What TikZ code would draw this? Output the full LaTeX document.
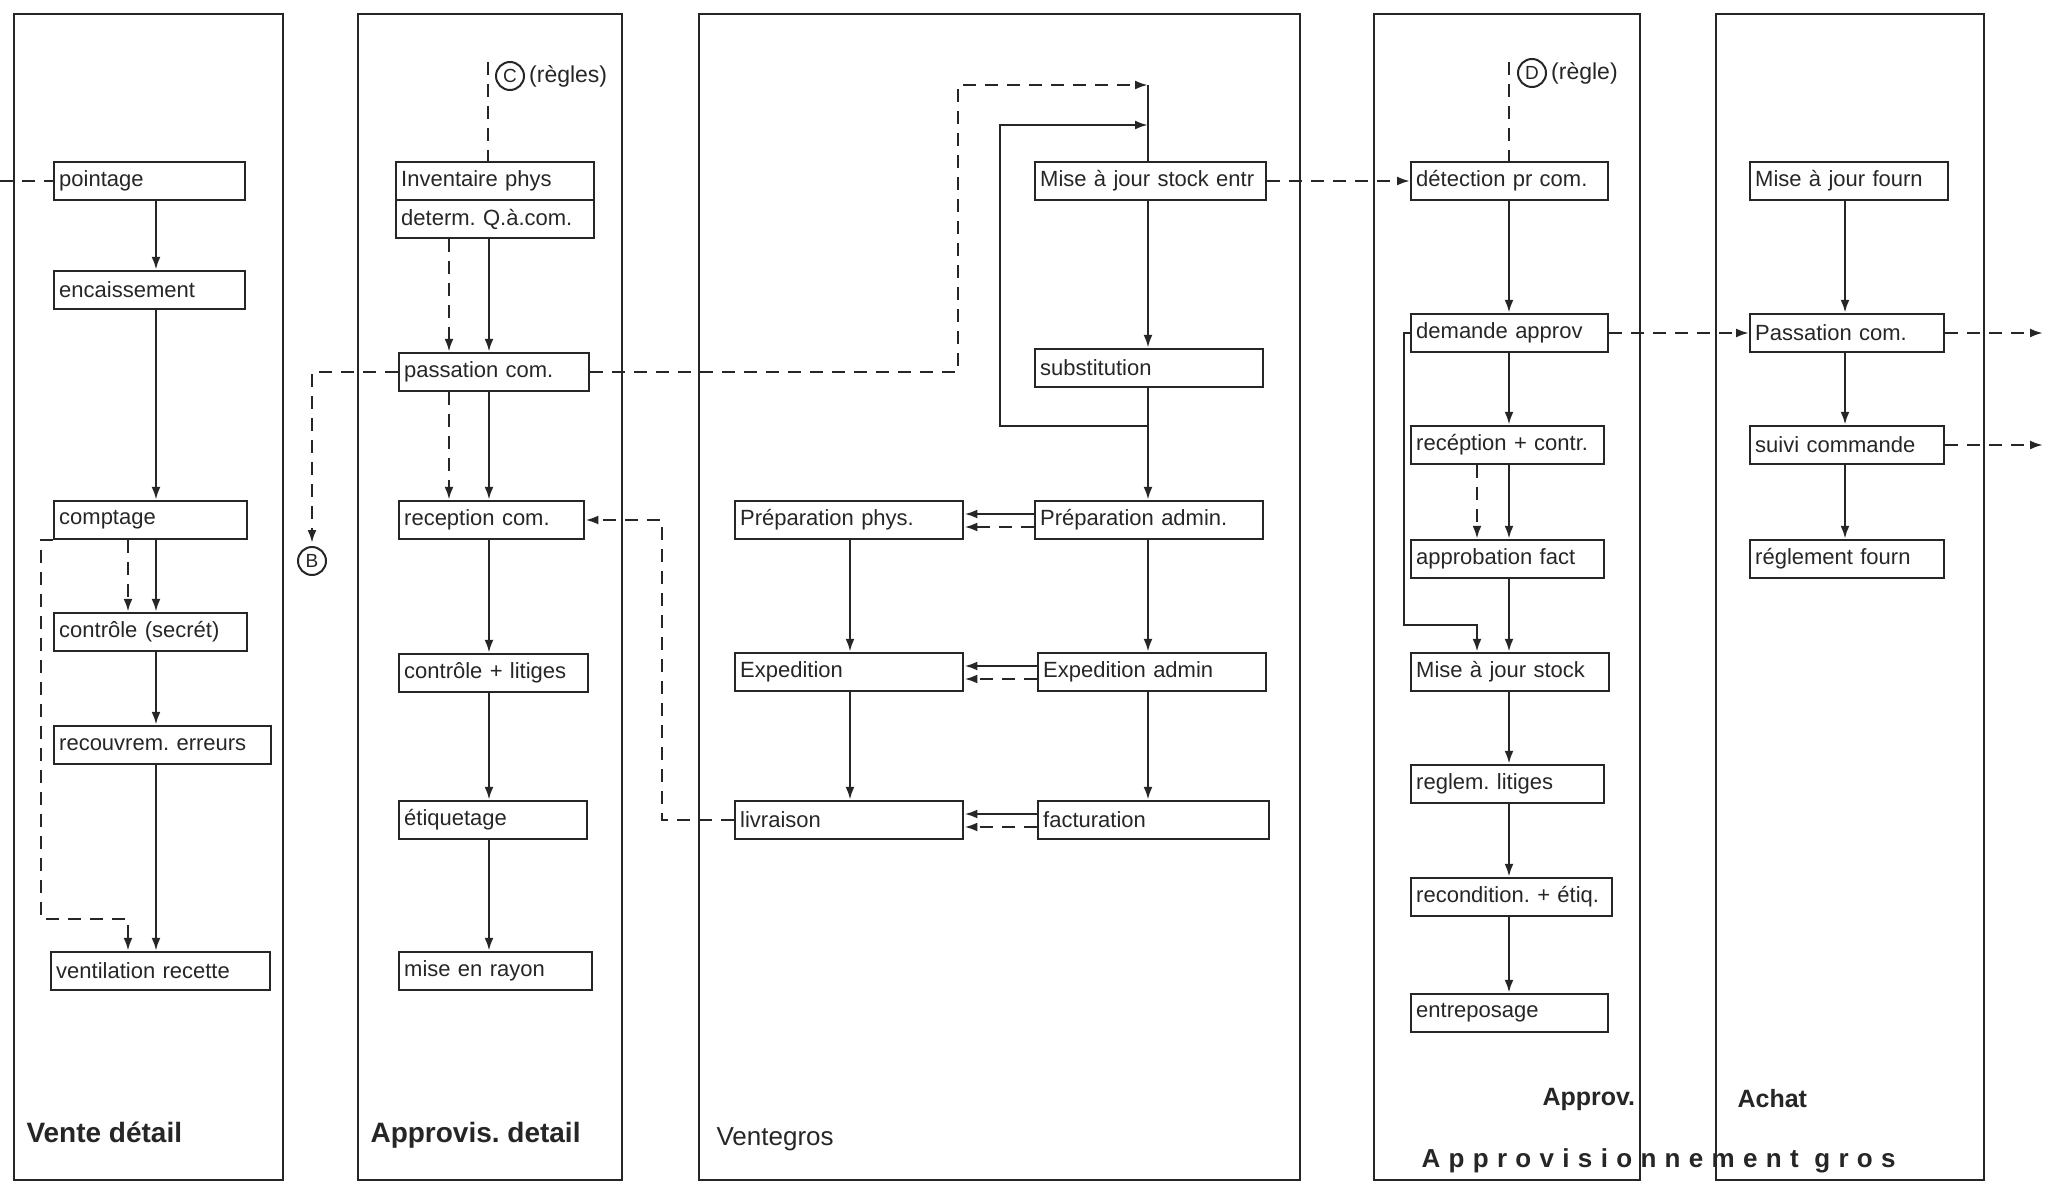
\documentclass[tikz,border=0pt]{standalone}
\usepackage{fontspec}
\setmainfont{Liberation Sans}
\usetikzlibrary{arrows.meta}
\frenchspacing
\tikzset{
  box/.style={draw, anchor=west, minimum height=38pt, inner xsep=5pt, inner ysep=0pt,
    align=left, font=\fontsize{22}{24}\selectfont},
  dsh/.style={dash pattern=on 13pt off 9pt},
  lane/.style={anchor=west, font=\bfseries\fontsize{28}{30}\selectfont},
  tag/.style={draw, circle, line width=2pt, inner sep=0pt, minimum size=28pt,
    font=\fontsize{19}{20}\selectfont},
  note/.style={anchor=west, inner xsep=3pt, font=\fontsize{23}{25}\selectfont},
}
\begin{document}
\begin{tikzpicture}[x=1pt, y=-1pt, line width=2.4pt, color=black!85,
    >={Latex[length=13pt,width=9pt]}]
\useasboundingbox (0,0) rectangle (2045,1185);

% lanes
\foreach \xa/\xb in {14/283, 358/622, 699/1300, 1374/1640, 1716/1984}
  \draw (\xa,14) rectangle (\xb,1180);

% columns of the arrows
\coordinate (c1) at (156,0);  \coordinate (c1d) at (128,0);
\coordinate (c2) at (489,0);  \coordinate (c2d) at (449,0);
\coordinate (c3) at (1148,0); \coordinate (c3p) at (850,0);
\coordinate (c4) at (1509,0); \coordinate (c4d) at (1477,0);
\coordinate (c5) at (1845,0);
\coordinate (lEdge) at (0,0); \coordinate (rEdge) at (2043,0);

% Vente detail
\node[box, text width=181pt] (pnt) at (53,181) {pointage};
\node[box, text width=181pt] (enc) at (53,290) {encaissement};
\node[box, text width=183pt] (cpt) at (53,520) {comptage};
\node[box, text width=183pt] (ctl) at (53,632) {contrôle (secrét)};
\node[box, text width=207pt] (rec) at (53,745) {recouvrem. erreurs};
\node[box, text width=209pt] (ven) at (50,971) {ventilation recette};

% Approvis. detail
\node[box, text width=188pt] (inv) at (395,181) {Inventaire phys};
\node[box, text width=188pt] (det) at (395,219) {determ. Q.à.com.};
\node[box, text width=180pt] (pas) at (398,372) {passation com.};
\node[box, text width=175pt] (rcp) at (398,520) {reception com.};
\node[box, text width=179pt] (ctg) at (398,673) {contrôle + litiges};
\node[box, text width=178pt] (eti) at (398,820) {étiquetage};
\node[box, text width=183pt] (ray) at (398,971) {mise en rayon};

% Vente gros
\node[box, text width=221pt] (msk) at (1034,181) {Mise à jour stock entr};
\node[box, text width=218pt] (sub) at (1034,368) {substitution};
\node[box, text width=218pt] (pad) at (1034,520) {Préparation admin.};
\node[box, text width=218pt] (pph) at (734,520) {Préparation phys.};
\node[box, text width=218pt] (exp) at (734,672) {Expedition};
\node[box, text width=218pt] (ead) at (1037,672) {Expedition admin};
\node[box, text width=218pt] (liv) at (734,820) {livraison};
\node[box, text width=221pt] (fac) at (1037,820) {facturation};

% Approv.
\node[box, text width=187pt] (dpc) at (1410,181) {détection pr com.};
\node[box, text width=187pt] (dem) at (1410,333) {demande approv};
\node[box, text width=183pt] (rct) at (1410,445) {recéption + contr.};
\node[box, text width=183pt] (apf) at (1410,559) {approbation fact};
\node[box, text width=188pt] (mjs) at (1410,672) {Mise à jour stock};
\node[box, text width=183pt] (rgl) at (1410,784) {reglem. litiges};
\node[box, text width=191pt] (rcd) at (1410,897) {recondition. + étiq.};
\node[box, text width=187pt] (ent) at (1410,1013) {entreposage};

% Achat
\node[box, text width=188pt] (mjf) at (1749,181) {Mise à jour fourn};
\node[box, text width=184pt] (pco) at (1749,333) {Passation com.};
\node[box, text width=184pt] (svc) at (1749,445) {suivi commande};
\node[box, text width=184pt] (rgf) at (1749,559) {réglement fourn};

% tags
\node[tag] (tC) at (510,76) {C};
\node[note] (rC) at (tC.east) {(règles)};
\node[tag] (tD) at (1532,73) {D};
\node[note] (rD) at (tD.east) {(règle)};
\node[tag] (tB) at (312,561) {B};
\coordinate (cC) at (488,62);
\coordinate (cD) at (1509,62);

% lane titles
\node[lane] (tVD) at (22,1132) {Vente détail};
\node[lane] (tAD) at (366,1135) {Approvis. detail};
\node[lane, font=\fontsize{26}{28}\selectfont] (tVG) at (712,1139) {Ventegros};
\node[lane, font=\bfseries\fontsize{25}{27}\selectfont] (tAp) at (1538,1099) {Approv.};
\node[lane, font=\bfseries\fontsize{25}{27}\selectfont] (tAc) at (1733,1099) {Achat};
\node[lane, font=\bfseries\fontsize{26}{28}\selectfont\addfontfeatures{LetterSpace=32}]
  (tAG) at (1417,1161) {Approvisionnement gros};

% solid chains
\foreach \a/\b in {pnt/enc, enc/cpt, cpt/ctl, ctl/rec, rec/ven}
  \draw[->] (\a.south -| c1) -- (\b.north -| c1);
\foreach \a/\b in {det/pas, pas/rcp, rcp/ctg, ctg/eti, eti/ray}
  \draw[->] (\a.south -| c2) -- (\b.north -| c2);
\foreach \a/\b in {msk/sub, sub/pad, pad/ead, ead/fac}
  \draw[->] (\a.south -| c3) -- (\b.north -| c3);
\foreach \a/\b in {pph/exp, exp/liv}
  \draw[->] (\a.south -| c3p) -- (\b.north -| c3p);
\foreach \a/\b in {dpc/dem, dem/rct, rct/apf, apf/mjs, mjs/rgl, rgl/rcd, rcd/ent}
  \draw[->] (\a.south -| c4) -- (\b.north -| c4);
\foreach \a/\b in {mjf/pco, pco/svc, svc/rgf}
  \draw[->] (\a.south -| c5) -- (\b.north -| c5);

% dashed twins
\draw[dsh,->] (cpt.south -| c1d) -- (ctl.north -| c1d);
\draw[dsh,->] (det.south -| c2d) -- (pas.north -| c2d);
\draw[dsh,->] (pas.south -| c2d) -- (rcp.north -| c2d);
\draw[dsh,->] (rct.south -| c4d) -- (apf.north -| c4d);

% admin -> phys
\foreach \a/\b in {pad/pph, ead/exp, fac/liv} {
  \draw[->] ([yshift=6pt]\a.west) -- ([yshift=6pt]\b.east);
  \draw[dsh,->] ([yshift=-7pt]\a.west) -- ([yshift=-7pt]\b.east);
}

% comptage -> ventilation
\coordinate (jV) at (41,919);
\draw[dsh,->] (cpt.south west) -- (cpt.south west -| jV) -- (jV) -- (jV -| c1d)
  -- (ven.north -| c1d);
\draw[dsh] (pnt.west -| lEdge) -- (pnt.west);

% regles
\draw[dsh] (cC) -- (inv.north -| cC);
\draw[dsh] (cD) -- (dpc.north -| cD);
\draw[dsh,->,shorten >=3pt] (pas.west) -| (tB.north);

% passation -> stock entr
\coordinate (jA) at (958,85);
\draw[dsh,->] (pas.east) -| (jA) -- (jA -| c3);
\draw (c3 |- jA) -- (msk.north -| c3);
\coordinate (jL) at (1000,426);
\coordinate (jT) at (1000,125);
\draw[->] (jL -| c3) -- (jL) -- (jT) -- (jT -| c3);

% livraison -> reception
\coordinate (jR) at (662,0);
\draw[dsh,->] (liv.west) -- (liv.west -| jR) -- (rcp.east -| jR) -- (rcp.east);

% across lanes
\draw[dsh,->] (msk.east) -- (dpc.west);
\draw[dsh,->] (dem.east) -- (pco.west);
\draw[dsh,->] (pco.east) -- (pco.east -| rEdge);
\draw[dsh,->] (svc.east) -- (svc.east -| rEdge);

% demande -> mise a jour stock
\coordinate (jM) at (1404,625);
\draw[->] (dem.west) -- (dem.west -| jM) -- (jM) -- (jM -| c4d) -- (mjs.north -| c4d);
\end{tikzpicture}
\end{document}
